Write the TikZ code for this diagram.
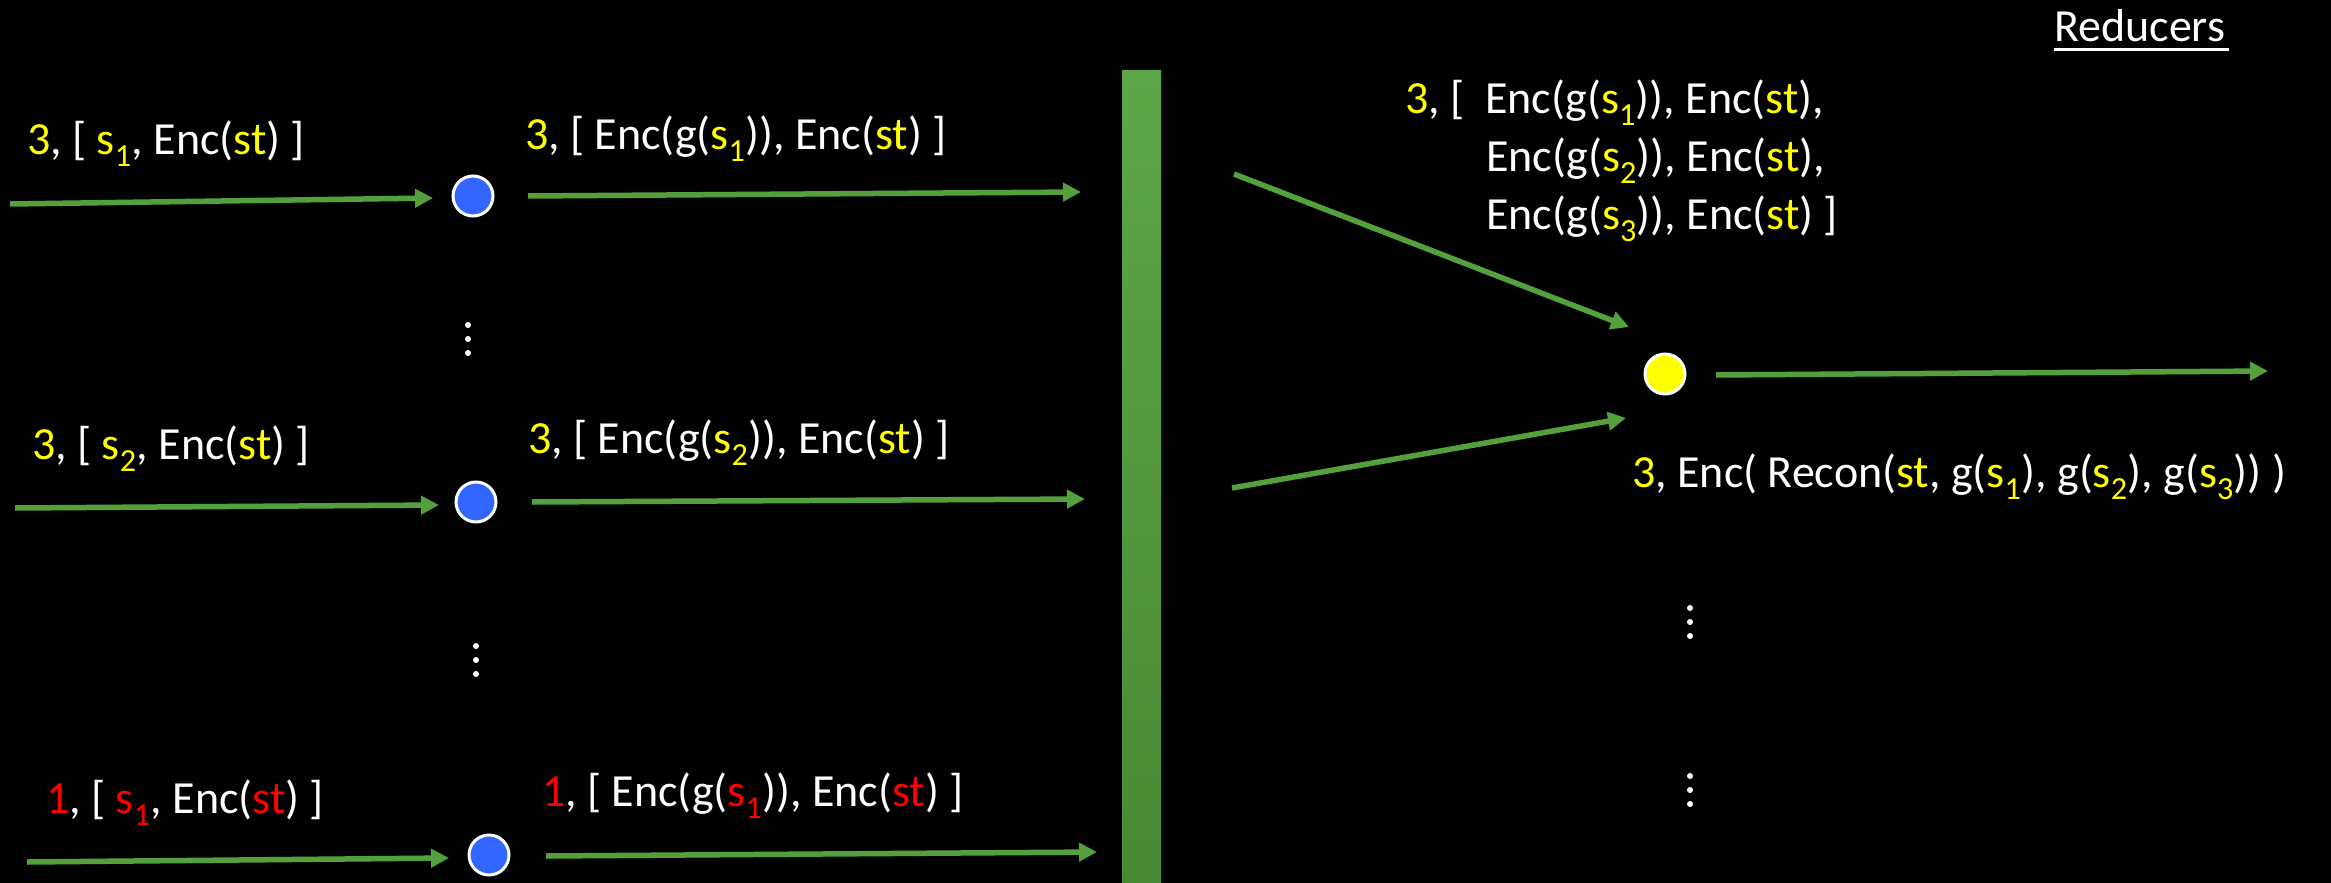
\documentclass[tikz,border=0pt]{standalone}
\usepackage{fontspec}
\setmainfont{Carlito}
\usetikzlibrary{arrows.meta}
\definecolor{grn}{RGB}{84,160,60}
\definecolor{bartop}{RGB}{92,166,72}
\definecolor{barbot}{RGB}{74,138,52}
\definecolor{yel}{RGB}{255,255,0}
\definecolor{redc}{RGB}{255,0,0}
\definecolor{blu}{RGB}{51,102,255}
\newcommand\Y[1]{\textcolor{yel}{#1}}
\newcommand\Rd[1]{\textcolor{redc}{#1}}
\newcommand\sbs[1]{\textsubscript{#1}}
\begin{document}
\begin{tikzpicture}[x=1pt,y=-1pt,
  flow/.style={line width=5.5pt, draw=grn, -{Triangle[length=18pt,width=18pt]}},
  lbl/.style={text=white, anchor=base west, inner sep=0pt, font=\fontsize{46}{56}\selectfont},
  mapper/.style={circle, fill=blu, draw=white, line width=3pt, minimum size=40pt, inner sep=0pt},
  reducer/.style={circle, fill=yel, draw=white, line width=3pt, minimum size=40pt, inner sep=0pt},
  vdot/.style={circle, fill=white, minimum size=6pt, inner sep=0pt}]
\fill[black] (0,0) rectangle (2331,883);
\useasboundingbox (0,0) rectangle (2331,883);
% shuffle bar
\shade[top color=bartop, bottom color=barbot] (1122,71) rectangle (1161,883);
% mappers
\node[mapper] (m1) at (473,196) {};
\node[mapper] (m2) at (476,502) {};
\node[mapper] (m3) at (489,855) {};
\node[reducer] (r1) at (1665,374) {};
% coordinates
\coordinate (a1) at (10,204); \coordinate (a1e) at (433,198);
\coordinate (b1) at (528,196); \coordinate (b1e) at (1081,192);
\coordinate (a2) at (15,508); \coordinate (a2e) at (439,505);
\coordinate (b2) at (532,502); \coordinate (b2e) at (1085,499);
\coordinate (a3) at (27,862); \coordinate (a3e) at (449,858);
\coordinate (b3) at (546,856); \coordinate (b3e) at (1097,852);
\coordinate (c1) at (1234,174); \coordinate (c1e) at (1629,327);
\coordinate (c2) at (1232,488); \coordinate (c2e) at (1626,418);
\coordinate (d1) at (1716,375); \coordinate (d1e) at (2268,371);
\draw[flow] (a1) -- (a1e);
\draw[flow] (b1) -- (b1e);
\draw[flow] (a2) -- (a2e);
\draw[flow] (b2) -- (b2e);
\draw[flow] (a3) -- (a3e);
\draw[flow] (b3) -- (b3e);
\draw[flow] (c1) -- (c1e);
\draw[flow] (c2) -- (c2e);
\draw[flow] (d1) -- (d1e);
% labels
\node[lbl] (t1a) at (27,154) {\Y{3}, [ \Y{s\sbs{1}}, Enc(\Y{st}) ]};
\node[lbl] (t1b) at (525,149) {\Y{3}, [ Enc(g(\Y{s\sbs{1}})), Enc(\Y{st}) ]};
\node[lbl] (t2a) at (32,459) {\Y{3}, [ \Y{s\sbs{2}}, Enc(\Y{st}) ]};
\node[lbl] (t2b) at (528,453) {\Y{3}, [ Enc(g(\Y{s\sbs{2}})), Enc(\Y{st}) ]};
\node[lbl] (t3a) at (46,813) {\Rd{1}, [ \Rd{s\sbs{1}}, Enc(\Rd{st}) ]};
\node[lbl] (t3b) at (542,806) {\Rd{1}, [ Enc(g(\Rd{s\sbs{1}})), Enc(\Rd{st}) ]};
\node[lbl] (u1) at (1405,113) {\Y{3}, [ \ Enc(g(\Y{s\sbs{1}})), Enc(\Y{st}),};
\node[lbl] (u2) at (1486,171) {Enc(g(\Y{s\sbs{2}})), Enc(\Y{st}),};
\node[lbl] (u3) at (1486,229) {Enc(g(\Y{s\sbs{3}})), Enc(\Y{st}) ]};
\node[lbl] (v1) at (1632,487) {\Y{3}, Enc( Recon(\Y{st}, g(\Y{s\sbs{1}}), g(\Y{s\sbs{2}}), g(\Y{s\sbs{3}})) )};
\node[lbl] (red) at (2054,42) {Reducers};
\draw[white, line width=3pt] (red.base west) ++(0,8) -- ++(175,0);
% vertical ellipses
\foreach \x/\y [count=\i] in {468/325, 476/646, 1690/608, 1690/776}{
  \node[vdot] (e\i a) at (\x,\y) {};
  \node[vdot] (e\i b) at (\x,\y+14) {};
  \node[vdot] (e\i c) at (\x,\y+28) {};
}
\end{tikzpicture}
\end{document}
